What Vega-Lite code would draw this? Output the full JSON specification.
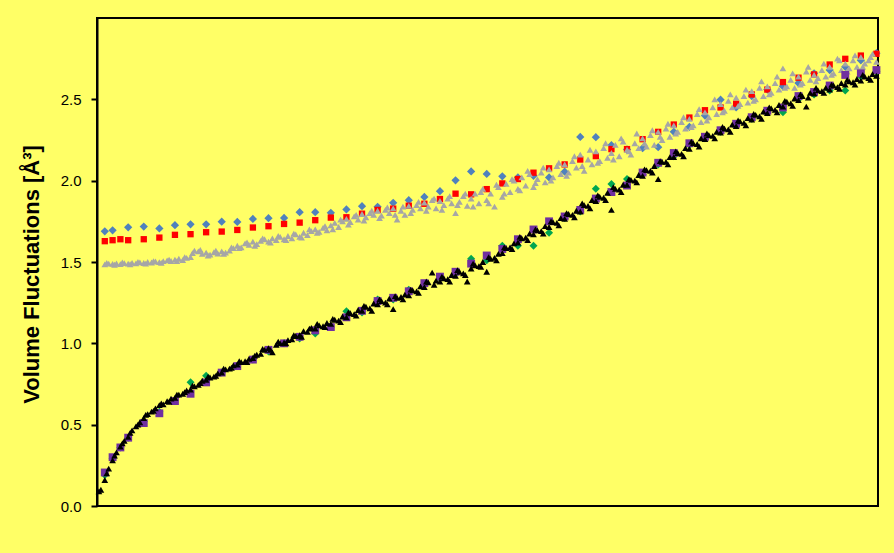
{
  "$schema": "https://vega.github.io/schema/vega-lite/v6.json",
  "autosize": {"type": "none"},
  "padding": {"left": 97, "top": 18, "right": 16, "bottom": 47},
  "width": 781,
  "height": 488,
  "background": "#ffff66",
  "config": {"view": {"stroke": "#000000", "strokeWidth": 2, "fill": "#ffff66"}},
  "datasets": {
    "blue": [{"x":1,"y":1.689},{"x":2,"y":1.695},{"x":4,"y":1.713},{"x":6,"y":1.718},{"x":8,"y":1.706},{"x":10,"y":1.726},{"x":12,"y":1.732},{"x":14,"y":1.732},{"x":16,"y":1.748},{"x":18,"y":1.746},{"x":20,"y":1.765},{"x":22,"y":1.769},{"x":24,"y":1.771},{"x":26,"y":1.806},{"x":28,"y":1.806},{"x":30,"y":1.802},{"x":32,"y":1.823},{"x":34,"y":1.843},{"x":36,"y":1.839},{"x":38,"y":1.864},{"x":40,"y":1.88},{"x":42,"y":1.9},{"x":44,"y":1.935},{"x":46,"y":2.002},{"x":48,"y":2.057},{"x":50,"y":2.041},{"x":52,"y":2.027},{"x":54,"y":2.02},{"x":56,"y":2.03},{"x":58,"y":2.02},{"x":60,"y":2.055},{"x":62,"y":2.269},{"x":64,"y":2.267},{"x":66,"y":2.218},{"x":68,"y":2.192},{"x":70,"y":2.2},{"x":72,"y":2.206},{"x":74,"y":2.3},{"x":76,"y":2.33},{"x":78,"y":2.4},{"x":80,"y":2.498},{"x":82,"y":2.45},{"x":84,"y":2.52},{"x":86,"y":2.56},{"x":88,"y":2.58},{"x":90,"y":2.6},{"x":92,"y":2.66},{"x":94,"y":2.68},{"x":96,"y":2.7},{"x":98,"y":2.74},{"x":100,"y":2.784}],
    "red": [{"x":1,"y":1.628},{"x":2,"y":1.634},{"x":3,"y":1.64},{"x":4,"y":1.634},{"x":6,"y":1.64},{"x":8,"y":1.65},{"x":10,"y":1.667},{"x":12,"y":1.671},{"x":14,"y":1.683},{"x":16,"y":1.687},{"x":18,"y":1.697},{"x":20,"y":1.712},{"x":22,"y":1.72},{"x":24,"y":1.734},{"x":26,"y":1.742},{"x":28,"y":1.757},{"x":30,"y":1.773},{"x":32,"y":1.775},{"x":34,"y":1.797},{"x":36,"y":1.82},{"x":38,"y":1.828},{"x":40,"y":1.846},{"x":42,"y":1.858},{"x":44,"y":1.887},{"x":46,"y":1.92},{"x":48,"y":1.916},{"x":50,"y":1.948},{"x":52,"y":1.983},{"x":54,"y":2.01},{"x":56,"y":2.049},{"x":58,"y":2.076},{"x":60,"y":2.1},{"x":62,"y":2.13},{"x":64,"y":2.151},{"x":66,"y":2.194},{"x":68,"y":2.194},{"x":70,"y":2.255},{"x":72,"y":2.3},{"x":74,"y":2.345},{"x":76,"y":2.388},{"x":78,"y":2.433},{"x":80,"y":2.45},{"x":82,"y":2.473},{"x":84,"y":2.53},{"x":86,"y":2.56},{"x":88,"y":2.606},{"x":90,"y":2.633},{"x":92,"y":2.653},{"x":94,"y":2.714},{"x":96,"y":2.749},{"x":98,"y":2.769},{"x":100,"y":2.78}],
    "gray": [{"x":1,"y":1.485},{"x":1.5,"y":1.49},{"x":2,"y":1.488},{"x":2.5,"y":1.492},{"x":3,"y":1.487},{"x":3.5,"y":1.493},{"x":4,"y":1.49},{"x":4.5,"y":1.495},{"x":5,"y":1.492},{"x":5.5,"y":1.498},{"x":6,"y":1.494},{"x":6.5,"y":1.5},{"x":7,"y":1.497},{"x":7.5,"y":1.503},{"x":8,"y":1.499},{"x":8.5,"y":1.505},{"x":9,"y":1.51},{"x":9.5,"y":1.506},{"x":10,"y":1.515},{"x":10.5,"y":1.52},{"x":11,"y":1.512},{"x":11.5,"y":1.525},{"x":12,"y":1.53},{"x":12.5,"y":1.57},{"x":13,"y":1.565},{"x":13.5,"y":1.55},{"x":14,"y":1.558},{"x":14.5,"y":1.545},{"x":15,"y":1.56},{"x":15.5,"y":1.552},{"x":16,"y":1.565},{"x":16.5,"y":1.558},{"x":17,"y":1.57},{"x":17.5,"y":1.585},{"x":18,"y":1.6},{"x":18.5,"y":1.59},{"x":19,"y":1.615},{"x":19.5,"y":1.605},{"x":20,"y":1.625},{"x":20.5,"y":1.61},{"x":21,"y":1.63},{"x":21.5,"y":1.64},{"x":22,"y":1.625},{"x":22.5,"y":1.645},{"x":23,"y":1.635},{"x":23.5,"y":1.655},{"x":24,"y":1.64},{"x":24.5,"y":1.66},{"x":25,"y":1.645},{"x":25.5,"y":1.67},{"x":26,"y":1.655},{"x":26.5,"y":1.68},{"x":27,"y":1.665},{"x":27.5,"y":1.69},{"x":28,"y":1.7},{"x":28.5,"y":1.685},{"x":29,"y":1.71},{"x":29.5,"y":1.695},{"x":30,"y":1.725},{"x":30.5,"y":1.74},{"x":31,"y":1.715},{"x":31.5,"y":1.75},{"x":32,"y":1.765},{"x":32.5,"y":1.745},{"x":33,"y":1.78},{"x":33.5,"y":1.76},{"x":34,"y":1.795},{"x":34.5,"y":1.775},{"x":35,"y":1.8},{"x":35.5,"y":1.79},{"x":36,"y":1.815},{"x":36.5,"y":1.785},{"x":37,"y":1.82},{"x":37.5,"y":1.8},{"x":38,"y":1.83},{"x":38.5,"y":1.76},{"x":39,"y":1.815},{"x":39.5,"y":1.79},{"x":40,"y":1.845},{"x":40.5,"y":1.82},{"x":41,"y":1.85},{"x":41.5,"y":1.83},{"x":42,"y":1.865},{"x":42.5,"y":1.84},{"x":43,"y":1.88},{"x":43.5,"y":1.83},{"x":44,"y":1.875},{"x":44.5,"y":1.85},{"x":45,"y":1.89},{"x":45.5,"y":1.86},{"x":46,"y":1.8},{"x":46.5,"y":1.87},{"x":47,"y":1.905},{"x":47.5,"y":1.845},{"x":48,"y":1.89},{"x":48.5,"y":1.92},{"x":49,"y":1.86},{"x":49.5,"y":1.95},{"x":50,"y":1.88},{"x":50.5,"y":1.92},{"x":51,"y":1.84},{"x":51.5,"y":1.96},{"x":52,"y":1.9},{"x":52.5,"y":1.98},{"x":53,"y":1.93},{"x":53.5,"y":2.0},{"x":54,"y":1.95},{"x":54.5,"y":2.02},{"x":55,"y":1.97},{"x":55.5,"y":2.04},{"x":56,"y":1.96},{"x":56.5,"y":2.01},{"x":57,"y":2.05},{"x":57.5,"y":1.99},{"x":58,"y":2.07},{"x":58.5,"y":2.02},{"x":59,"y":2.09},{"x":59.5,"y":2.04},{"x":60,"y":2.1},{"x":60.5,"y":2.05},{"x":61,"y":2.12},{"x":61.5,"y":2.08},{"x":62,"y":2.16},{"x":62.5,"y":2.06},{"x":63,"y":2.13},{"x":63.5,"y":2.1},{"x":64,"y":2.18},{"x":64.5,"y":2.12},{"x":65,"y":2.2},{"x":65.5,"y":2.14},{"x":66,"y":2.17},{"x":66.5,"y":2.22},{"x":67,"y":2.15},{"x":67.5,"y":2.24},{"x":68,"y":2.19},{"x":68.5,"y":2.16},{"x":69,"y":2.23},{"x":69.5,"y":2.2},{"x":70,"y":2.26},{"x":70.5,"y":2.21},{"x":71,"y":2.28},{"x":71.5,"y":2.22},{"x":72,"y":2.3},{"x":72.5,"y":2.25},{"x":73,"y":2.32},{"x":73.5,"y":2.27},{"x":74,"y":2.34},{"x":74.5,"y":2.3},{"x":75,"y":2.36},{"x":75.5,"y":2.32},{"x":76,"y":2.38},{"x":76.5,"y":2.34},{"x":77,"y":2.41},{"x":77.5,"y":2.36},{"x":78,"y":2.42},{"x":78.5,"y":2.39},{"x":79,"y":2.45},{"x":79.5,"y":2.41},{"x":80,"y":2.47},{"x":80.5,"y":2.43},{"x":81,"y":2.49},{"x":81.5,"y":2.45},{"x":82,"y":2.51},{"x":82.5,"y":2.47},{"x":83,"y":2.52},{"x":83.5,"y":2.48},{"x":84,"y":2.55},{"x":84.5,"y":2.5},{"x":85,"y":2.57},{"x":85.5,"y":2.52},{"x":86,"y":2.58},{"x":86.5,"y":2.54},{"x":87,"y":2.6},{"x":87.5,"y":2.56},{"x":88,"y":2.69},{"x":88.5,"y":2.58},{"x":89,"y":2.62},{"x":89.5,"y":2.57},{"x":90,"y":2.64},{"x":90.5,"y":2.6},{"x":91,"y":2.67},{"x":91.5,"y":2.62},{"x":92,"y":2.65},{"x":92.5,"y":2.63},{"x":93,"y":2.68},{"x":93.5,"y":2.64},{"x":94,"y":2.7},{"x":94.5,"y":2.66},{"x":95,"y":2.75},{"x":95.5,"y":2.68},{"x":96,"y":2.72},{"x":96.5,"y":2.69},{"x":97,"y":2.74},{"x":97.5,"y":2.7},{"x":98,"y":2.76},{"x":98.5,"y":2.72},{"x":99,"y":2.74},{"x":99.5,"y":2.78},{"x":100,"y":2.73},
      {"x":1.25,"y":1.495},{"x":2.25,"y":1.483},{"x":3.25,"y":1.497},{"x":4.25,"y":1.486},{"x":5.25,"y":1.5},{"x":6.25,"y":1.49},{"x":7.25,"y":1.505},{"x":8.25,"y":1.495},{"x":9.25,"y":1.515},{"x":10.25,"y":1.505},{"x":11.25,"y":1.53},{"x":12.25,"y":1.555},{"x":13.25,"y":1.575},{"x":14.25,"y":1.54},{"x":15.25,"y":1.57},{"x":16.25,"y":1.55},{"x":17.25,"y":1.59},{"x":18.25,"y":1.585},{"x":19.25,"y":1.62},{"x":20.25,"y":1.6},{"x":21.25,"y":1.645},{"x":22.25,"y":1.62},{"x":23.25,"y":1.66},{"x":24.25,"y":1.635},{"x":25.25,"y":1.675},{"x":26.25,"y":1.65},{"x":27.25,"y":1.7},{"x":28.25,"y":1.68},{"x":29.25,"y":1.72},{"x":30.25,"y":1.7},{"x":31.25,"y":1.76},{"x":32.25,"y":1.73},{"x":33.25,"y":1.79},{"x":34.25,"y":1.755},{"x":35.25,"y":1.815},{"x":36.25,"y":1.77},{"x":37.25,"y":1.835},{"x":38.25,"y":1.79},{"x":39.25,"y":1.84},{"x":40.25,"y":1.8},{"x":41.25,"y":1.87},{"x":42.25,"y":1.815},{"x":43.25,"y":1.89},{"x":44.25,"y":1.82},{"x":45.25,"y":1.905},{"x":46.25,"y":1.85},{"x":47.25,"y":1.92},{"x":48.25,"y":1.84},{"x":49.25,"y":1.93},{"x":50.25,"y":1.86},{"x":51.25,"y":1.975},{"x":52.25,"y":1.92},{"x":53.25,"y":2.01},{"x":54.25,"y":1.94},{"x":55.25,"y":2.06},{"x":56.25,"y":1.985},{"x":57.25,"y":2.08},{"x":58.25,"y":2.0},{"x":59.25,"y":2.11},{"x":60.25,"y":2.03},{"x":61.25,"y":2.15},{"x":62.25,"y":2.09},{"x":63.25,"y":2.19},{"x":64.25,"y":2.11},{"x":65.25,"y":2.23},{"x":66.25,"y":2.13},{"x":67.25,"y":2.26},{"x":68.25,"y":2.18},{"x":69.25,"y":2.29},{"x":70.25,"y":2.23},{"x":71.25,"y":2.31},{"x":72.25,"y":2.27},{"x":73.25,"y":2.35},{"x":74.25,"y":2.29},{"x":75.25,"y":2.39},{"x":76.25,"y":2.33},{"x":77.25,"y":2.44},{"x":78.25,"y":2.37},{"x":79.25,"y":2.5},{"x":80.25,"y":2.42},{"x":81.25,"y":2.53},{"x":82.25,"y":2.46},{"x":83.25,"y":2.56},{"x":84.25,"y":2.49},{"x":85.25,"y":2.61},{"x":86.25,"y":2.53},{"x":87.25,"y":2.64},{"x":88.25,"y":2.57},{"x":89.25,"y":2.66},{"x":90.25,"y":2.59},{"x":91.25,"y":2.7},{"x":92.25,"y":2.61},{"x":93.25,"y":2.72},{"x":94.25,"y":2.65},{"x":95.25,"y":2.74},{"x":96.25,"y":2.67},{"x":97.25,"y":2.77},{"x":98.25,"y":2.7},{"x":99.25,"y":2.76}],
    "green": [{"x":1,"y":0.19},{"x":2,"y":0.29},{"x":3,"y":0.36},{"x":4,"y":0.42},{"x":6,"y":0.52},{"x":8,"y":0.58},{"x":10,"y":0.65},{"x":12,"y":0.76},{"x":14,"y":0.8},{"x":16,"y":0.82},{"x":18,"y":0.86},{"x":20,"y":0.9},{"x":22,"y":0.95},{"x":24,"y":1.0},{"x":26,"y":1.03},{"x":28,"y":1.06},{"x":30,"y":1.1},{"x":32,"y":1.197},{"x":34,"y":1.19},{"x":36,"y":1.27},{"x":38,"y":1.27},{"x":40,"y":1.33},{"x":42,"y":1.36},{"x":44,"y":1.4},{"x":46,"y":1.43},{"x":48,"y":1.52},{"x":50,"y":1.51},{"x":52,"y":1.6},{"x":54,"y":1.6},{"x":56,"y":1.6},{"x":58,"y":1.68},{"x":60,"y":1.77},{"x":62,"y":1.81},{"x":64,"y":1.95},{"x":66,"y":1.98},{"x":68,"y":2.01},{"x":70,"y":2.04},{"x":72,"y":2.1},{"x":74,"y":2.15},{"x":76,"y":2.22},{"x":78,"y":2.26},{"x":80,"y":2.3},{"x":82,"y":2.34},{"x":84,"y":2.38},{"x":86,"y":2.42},{"x":88,"y":2.42},{"x":90,"y":2.5},{"x":92,"y":2.53},{"x":94,"y":2.555},{"x":96,"y":2.555},{"x":98,"y":2.64},{"x":100,"y":2.67}],
    "purple": [{"x":1,"y":0.206},{"x":2,"y":0.3},{"x":3,"y":0.36},{"x":4,"y":0.42},{"x":6,"y":0.51},{"x":8,"y":0.57},{"x":10,"y":0.645},{"x":12,"y":0.69},{"x":14,"y":0.76},{"x":16,"y":0.82},{"x":18,"y":0.86},{"x":20,"y":0.9},{"x":22,"y":0.96},{"x":24,"y":1.0},{"x":26,"y":1.04},{"x":28,"y":1.08},{"x":30,"y":1.1},{"x":32,"y":1.16},{"x":34,"y":1.2},{"x":36,"y":1.26},{"x":38,"y":1.28},{"x":40,"y":1.32},{"x":42,"y":1.37},{"x":44,"y":1.41},{"x":46,"y":1.44},{"x":48,"y":1.49},{"x":50,"y":1.54},{"x":52,"y":1.58},{"x":54,"y":1.64},{"x":56,"y":1.7},{"x":58,"y":1.75},{"x":60,"y":1.78},{"x":62,"y":1.82},{"x":64,"y":1.89},{"x":66,"y":1.93},{"x":68,"y":1.97},{"x":70,"y":2.05},{"x":72,"y":2.11},{"x":74,"y":2.17},{"x":76,"y":2.23},{"x":78,"y":2.27},{"x":80,"y":2.31},{"x":82,"y":2.35},{"x":84,"y":2.39},{"x":86,"y":2.43},{"x":88,"y":2.45},{"x":90,"y":2.52},{"x":92,"y":2.545},{"x":94,"y":2.585},{"x":96,"y":2.65},{"x":98,"y":2.66},{"x":100,"y":2.68}],
    "black": [{"x":0.5,"y":0.1},{"x":1,"y":0.16},{"x":1.5,"y":0.23},{"x":2,"y":0.28},{"x":2.5,"y":0.33},{"x":3,"y":0.365},{"x":3.5,"y":0.4},{"x":4,"y":0.425},{"x":4.5,"y":0.465},{"x":5,"y":0.49},{"x":5.5,"y":0.515},{"x":6,"y":0.54},{"x":6.5,"y":0.565},{"x":7,"y":0.58},{"x":7.5,"y":0.6},{"x":8,"y":0.62},{"x":8.5,"y":0.625},{"x":9,"y":0.645},{"x":9.5,"y":0.66},{"x":10,"y":0.665},{"x":10.5,"y":0.685},{"x":11,"y":0.69},{"x":11.5,"y":0.71},{"x":12,"y":0.715},{"x":12.5,"y":0.735},{"x":13,"y":0.745},{"x":13.5,"y":0.77},{"x":14,"y":0.775},{"x":14.5,"y":0.79},{"x":15,"y":0.795},{"x":15.5,"y":0.815},{"x":16,"y":0.82},{"x":16.5,"y":0.84},{"x":17,"y":0.845},{"x":17.5,"y":0.865},{"x":18,"y":0.87},{"x":18.5,"y":0.885},{"x":19,"y":0.89},{"x":19.5,"y":0.905},{"x":20,"y":0.91},{"x":20.5,"y":0.93},{"x":21,"y":0.935},{"x":21.5,"y":0.96},{"x":22,"y":0.97},{"x":22.5,"y":0.945},{"x":23,"y":0.99},{"x":23.5,"y":1.0},{"x":24,"y":1.005},{"x":24.5,"y":1.02},{"x":25,"y":1.025},{"x":25.5,"y":1.045},{"x":26,"y":1.05},{"x":26.5,"y":1.075},{"x":27,"y":1.07},{"x":27.5,"y":1.095},{"x":28,"y":1.09},{"x":28.5,"y":1.11},{"x":29,"y":1.105},{"x":29.5,"y":1.125},{"x":30,"y":1.12},{"x":30.5,"y":1.145},{"x":31,"y":1.14},{"x":31.5,"y":1.165},{"x":32,"y":1.16},{"x":32.5,"y":1.185},{"x":33,"y":1.18},{"x":33.5,"y":1.205},{"x":34,"y":1.2},{"x":34.5,"y":1.225},{"x":35,"y":1.215},{"x":35.5,"y":1.245},{"x":36,"y":1.24},{"x":36.5,"y":1.26},{"x":37,"y":1.25},{"x":37.5,"y":1.275},{"x":38,"y":1.21},{"x":38.5,"y":1.28},{"x":39,"y":1.285},{"x":39.5,"y":1.3},{"x":40,"y":1.295},{"x":40.5,"y":1.325},{"x":41,"y":1.32},{"x":41.5,"y":1.35},{"x":42,"y":1.345},{"x":42.5,"y":1.375},{"x":43,"y":1.435},{"x":43.5,"y":1.385},{"x":44,"y":1.38},{"x":44.5,"y":1.4},{"x":45,"y":1.395},{"x":45.5,"y":1.42},{"x":46,"y":1.415},{"x":46.5,"y":1.44},{"x":47,"y":1.43},{"x":47.5,"y":1.38},{"x":48,"y":1.46},{"x":48.5,"y":1.48},{"x":49,"y":1.475},{"x":49.5,"y":1.5},{"x":50,"y":1.44},{"x":50.5,"y":1.52},{"x":51,"y":1.525},{"x":51.5,"y":1.55},{"x":52,"y":1.555},{"x":52.5,"y":1.585},{"x":53,"y":1.59},{"x":53.5,"y":1.615},{"x":54,"y":1.62},{"x":54.5,"y":1.645},{"x":55,"y":1.65},{"x":55.5,"y":1.675},{"x":56,"y":1.67},{"x":56.5,"y":1.695},{"x":57,"y":1.69},{"x":57.5,"y":1.72},{"x":58,"y":1.715},{"x":58.5,"y":1.745},{"x":59,"y":1.74},{"x":59.5,"y":1.77},{"x":60,"y":1.765},{"x":60.5,"y":1.795},{"x":61,"y":1.79},{"x":61.5,"y":1.815},{"x":62,"y":1.81},{"x":62.5,"y":1.85},{"x":63,"y":1.845},{"x":63.5,"y":1.88},{"x":64,"y":1.875},{"x":64.5,"y":1.9},{"x":65,"y":1.895},{"x":65.5,"y":1.925},{"x":66,"y":1.82},{"x":66.5,"y":1.95},{"x":67,"y":1.945},{"x":67.5,"y":1.975},{"x":68,"y":1.975},{"x":68.5,"y":2.005},{"x":69,"y":2.0},{"x":69.5,"y":2.035},{"x":70,"y":2.03},{"x":70.5,"y":2.065},{"x":71,"y":2.06},{"x":71.5,"y":2.09},{"x":72,"y":2.01},{"x":72.5,"y":2.115},{"x":73,"y":2.115},{"x":73.5,"y":2.145},{"x":74,"y":2.145},{"x":74.5,"y":2.17},{"x":75,"y":2.165},{"x":75.5,"y":2.2},{"x":76,"y":2.195},{"x":76.5,"y":2.23},{"x":77,"y":2.225},{"x":77.5,"y":2.26},{"x":78,"y":2.255},{"x":78.5,"y":2.28},{"x":79,"y":2.275},{"x":79.5,"y":2.3},{"x":80,"y":2.295},{"x":80.5,"y":2.32},{"x":81,"y":2.315},{"x":81.5,"y":2.345},{"x":82,"y":2.335},{"x":82.5,"y":2.365},{"x":83,"y":2.355},{"x":83.5,"y":2.385},{"x":84,"y":2.375},{"x":84.5,"y":2.405},{"x":85,"y":2.395},{"x":85.5,"y":2.425},{"x":86,"y":2.415},{"x":86.5,"y":2.445},{"x":87,"y":2.435},{"x":87.5,"y":2.465},{"x":88,"y":2.455},{"x":88.5,"y":2.485},{"x":89,"y":2.475},{"x":89.5,"y":2.505},{"x":90,"y":2.495},{"x":90.5,"y":2.52},{"x":91,"y":2.455},{"x":91.5,"y":2.54},{"x":92,"y":2.535},{"x":92.5,"y":2.555},{"x":93,"y":2.55},{"x":93.5,"y":2.57},{"x":94,"y":2.56},{"x":94.5,"y":2.585},{"x":95,"y":2.575},{"x":95.5,"y":2.6},{"x":96,"y":2.59},{"x":96.5,"y":2.61},{"x":97,"y":2.605},{"x":97.5,"y":2.625},{"x":98,"y":2.615},{"x":98.5,"y":2.64},{"x":99,"y":2.63},{"x":99.5,"y":2.655},{"x":100,"y":2.645},
      {"x":0.25,"y":0.09},{"x":1.25,"y":0.2},{"x":2.25,"y":0.31},{"x":3.25,"y":0.385},{"x":4.25,"y":0.45},{"x":5.25,"y":0.5},{"x":6.25,"y":0.56},{"x":7.25,"y":0.585},{"x":8.25,"y":0.63},{"x":9.25,"y":0.64},{"x":10.25,"y":0.685},{"x":11.25,"y":0.7},{"x":12.25,"y":0.74},{"x":13.25,"y":0.755},{"x":14.25,"y":0.795},{"x":15.25,"y":0.8},{"x":16.25,"y":0.845},{"x":17.25,"y":0.85},{"x":18.25,"y":0.89},{"x":19.25,"y":0.885},{"x":20.25,"y":0.925},{"x":21.25,"y":0.965},{"x":22.25,"y":0.96},{"x":23.25,"y":1.01},{"x":24.25,"y":1.0},{"x":25.25,"y":1.05},{"x":26.25,"y":1.04},{"x":27.25,"y":1.09},{"x":28.25,"y":1.12},{"x":29.25,"y":1.1},{"x":30.25,"y":1.15},{"x":31.25,"y":1.13},{"x":32.25,"y":1.19},{"x":33.25,"y":1.17},{"x":34.25,"y":1.23},{"x":35.25,"y":1.2},{"x":36.25,"y":1.27},{"x":37.25,"y":1.24},{"x":38.25,"y":1.29},{"x":39.25,"y":1.27},{"x":40.25,"y":1.33},{"x":41.25,"y":1.31},{"x":42.25,"y":1.38},{"x":43.25,"y":1.36},{"x":44.25,"y":1.41},{"x":45.25,"y":1.38},{"x":46.25,"y":1.45},{"x":47.25,"y":1.42},{"x":48.25,"y":1.49},{"x":49.25,"y":1.47},{"x":50.25,"y":1.53},{"x":51.25,"y":1.51},{"x":52.25,"y":1.59},{"x":53.25,"y":1.58},{"x":54.25,"y":1.655},{"x":55.25,"y":1.635},{"x":56.25,"y":1.7},{"x":57.25,"y":1.675},{"x":58.25,"y":1.75},{"x":59.25,"y":1.725},{"x":60.25,"y":1.8},{"x":61.25,"y":1.775},{"x":62.25,"y":1.86},{"x":63.25,"y":1.83},{"x":64.25,"y":1.91},{"x":65.25,"y":1.88},{"x":66.25,"y":1.96},{"x":67.25,"y":1.93},{"x":68.25,"y":2.01},{"x":69.25,"y":1.99},{"x":70.25,"y":2.07},{"x":71.25,"y":2.05},{"x":72.25,"y":2.12},{"x":73.25,"y":2.1},{"x":74.25,"y":2.18},{"x":75.25,"y":2.15},{"x":76.25,"y":2.24},{"x":77.25,"y":2.21},{"x":78.25,"y":2.29},{"x":79.25,"y":2.26},{"x":80.25,"y":2.33},{"x":81.25,"y":2.3},{"x":82.25,"y":2.37},{"x":83.25,"y":2.34},{"x":84.25,"y":2.41},{"x":85.25,"y":2.38},{"x":86.25,"y":2.45},{"x":87.25,"y":2.42},{"x":88.25,"y":2.49},{"x":89.25,"y":2.46},{"x":90.25,"y":2.53},{"x":91.25,"y":2.51},{"x":92.25,"y":2.57},{"x":93.25,"y":2.54},{"x":94.25,"y":2.59},{"x":95.25,"y":2.565},{"x":96.25,"y":2.62},{"x":97.25,"y":2.59},{"x":98.25,"y":2.65},{"x":99.25,"y":2.62}]
  },
  "encoding": {
    "x": {"field": "x", "type": "quantitative", "scale": {"domain": [0, 100.2], "nice": false, "zero": false}, "axis": null},
    "y": {"field": "y", "type": "quantitative", "scale": {"domain": [0, 3], "nice": false},
      "axis": {"values": [0, 0.5, 1, 1.5, 2, 2.5], "format": ".1f", "grid": false,
        "domainColor": "#000000", "domainWidth": 2, "tickColor": "#000000", "tickWidth": 2, "tickSize": 6,
        "labelFont": "Liberation Sans", "labelFontSize": 15, "labelColor": "#000000", "labelPadding": 10,
        "title": "Volume Fluctuations [Å³]", "titleFont": "Liberation Sans", "titleFontSize": 22, "titleFontWeight": "bold", "titleColor": "#000000", "titlePadding": 17, "titleY": 256}}
  },
  "layer": [
    {"data": {"name": "blue"}, "mark": {"type": "point", "shape": "diamond", "filled": true, "color": "#4f81bd", "size": 68, "opacity": 1}},
    {"data": {"name": "red"}, "mark": {"type": "point", "shape": "square", "filled": true, "color": "#ff0000", "size": 40, "opacity": 1}},
    {"data": {"name": "gray"}, "mark": {"type": "point", "shape": "triangle-up", "filled": true, "color": "#a6a6a6", "size": 45, "opacity": 1}},
    {"data": {"name": "green"}, "mark": {"type": "point", "shape": "diamond", "filled": true, "color": "#00a650", "size": 64, "opacity": 1}},
    {"data": {"name": "purple"}, "mark": {"type": "point", "shape": "square", "filled": true, "color": "#7030a0", "size": 62, "opacity": 1}},
    {"data": {"name": "black"}, "mark": {"type": "point", "shape": "triangle-up", "filled": true, "color": "#000000", "size": 45, "opacity": 1}}
  ]
}
